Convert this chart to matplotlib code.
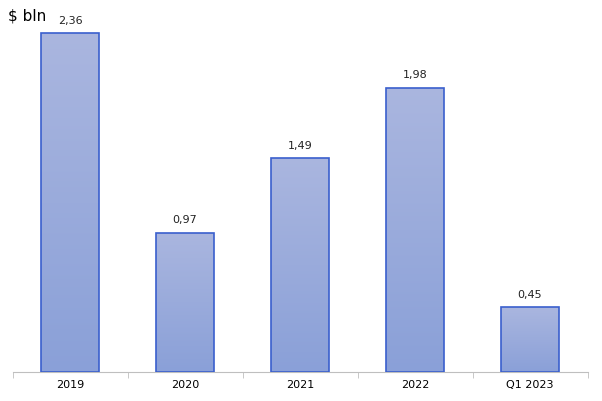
import numpy as np
import matplotlib.pyplot as plt
from matplotlib.colors import LinearSegmentedColormap

categories = ['2019', '2020', '2021', '2022', 'Q1 2023']
values = [2.36, 0.97, 1.49, 1.98, 0.45]
value_labels = ['2,36', '0,97', '1,49', '1,98', '0,45']

fig = plt.figure(figsize=(6.02, 4.01), dpi=100)
ax = fig.add_axes([12.5 / 602, 1 - 372 / 401, 575 / 602, 372 / 401])

x = np.arange(len(categories))
bars = ax.bar(x, values, width=0.5, facecolor='none', edgecolor='#3a5fcd', linewidth=1.2, zorder=3)

cmap = LinearSegmentedColormap.from_list('grad', ['#8aa0d8', '#aab6df'])
grad = np.linspace(0, 1, 256).reshape(-1, 1)
for b in bars:
    x0, w, h = b.get_x(), b.get_width(), b.get_height()
    im = ax.imshow(grad, cmap=cmap, origin='lower', aspect='auto',
                   extent=[x0, x0 + w, 0, h], zorder=2)
    im.set_clip_path(b)
    ax.text(x0 + w / 2, h + 0.05, value_labels[list(bars).index(b)],
            ha='center', va='bottom', fontsize=8, color='#222222')

ax.set_xlim(-0.5, len(categories) - 0.5)
ax.set_ylim(0, 2.59)
ax.set_xticks(x)
ax.set_xticklabels(categories, fontsize=8)
ax.set_xticks(np.arange(-0.5, len(categories)), minor=True)
ax.tick_params(axis='x', which='major', length=0, pad=6)
ax.tick_params(axis='x', which='minor', length=4, color='#bfbfbf')
ax.set_yticks([])
for s in ['top', 'right', 'left']:
    ax.spines[s].set_visible(False)
ax.spines['bottom'].set_color('#bfbfbf')

fig.text(8 / 602, 1 - 16 / 401, '$ bln', fontsize=11, va='center', ha='left')

fig.savefig('out.png', dpi=100)
